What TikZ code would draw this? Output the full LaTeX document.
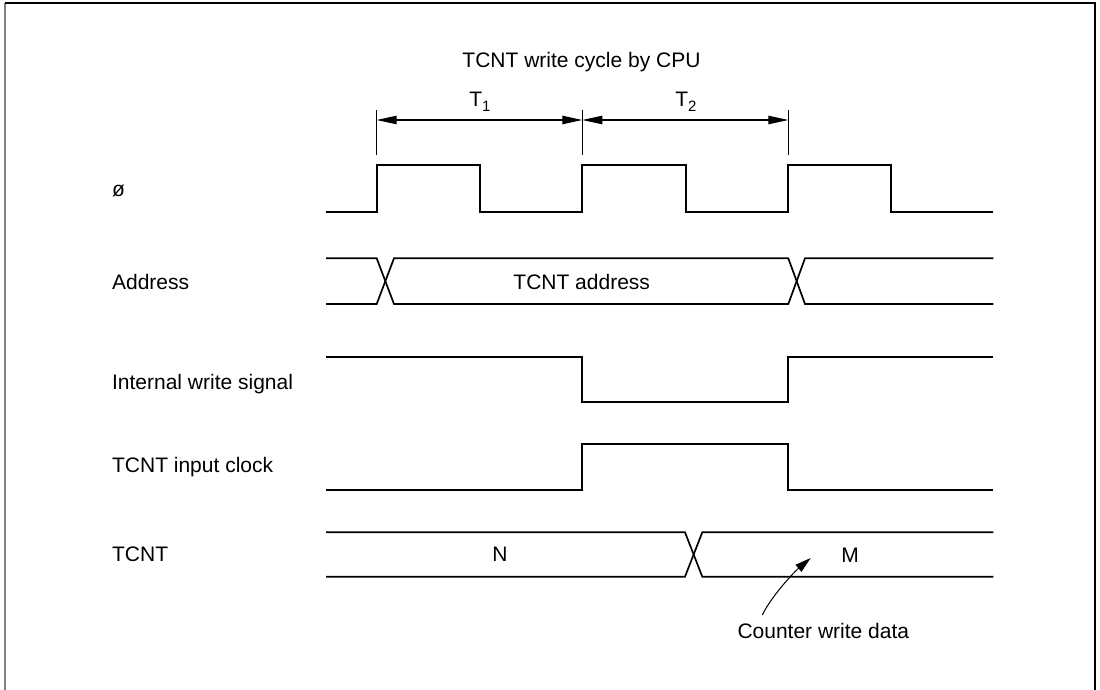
\documentclass[tikz,border=0pt]{standalone}
\usepackage{fontspec}
\setmainfont{Liberation Sans}
\usetikzlibrary{arrows.meta}
\begin{document}
\begin{tikzpicture}[x=0.5pt,y=-0.5pt,
  sig/.style={line width=0.85pt, line join=miter},
  lbl/.style={anchor=base west, inner sep=0pt, font=\fontsize{10.5pt}{12pt}\selectfont},
  txt/.style={anchor=base, inner sep=0pt, font=\fontsize{10.5pt}{12pt}\selectfont},
  tickline/.style={line width=0.45pt},
  dimline/.style={line width=0.55pt, {Triangle[length=10pt,width=4.2pt]}-{Triangle[length=10pt,width=4.2pt]}},
  callout/.style={line width=0.5pt, -{Triangle[length=8pt,width=4.5pt]}}]
\useasboundingbox (0,0) rectangle (1100,690);
% frame
\draw[gray, line width=1pt] (5,3) -- (5,690);
\draw[line width=0.6pt] (5,3) -- (1095,3) -- (1095,690);

% signal labels
\node[lbl] (lphi) at (111.7,196.7) {ø};
\node[lbl] (laddr) at (111.7,289.3) {Address};
\node[lbl] (lws) at (111.7,389.5) {Internal write signal};
\node[lbl] (lclk) at (111.7,472.7) {TCNT input clock};
\node[lbl] (ltcnt) at (111.7,561.7) {TCNT};

% title and period labels
\node[txt] (title) at (581.5,68) {TCNT write cycle by CPU};
\node[txt] (t1) at (480,106.7) {T\raisebox{-2.5pt}{\fontsize{7.5pt}{9pt}\selectfont 1}};
\node[txt] (t2) at (686,106.7) {T\raisebox{-2.5pt}{\fontsize{7.5pt}{9pt}\selectfont 2}};

% dimension ticks and arrows
\coordinate (ka) at (376.7,110); \coordinate (kab) at (376.7,155);
\coordinate (kc) at (582.3,110); \coordinate (kcb) at (582.3,155);
\coordinate (ke) at (788.3,110); \coordinate (keb) at (788.3,155);
\draw[tickline] (ka) -- (kab);
\draw[tickline] (kc) -- (kcb);
\draw[tickline] (ke) -- (keb);
\coordinate (da) at (376.7,120);
\coordinate (dc) at (582.3,120);
\coordinate (de) at (788.3,120);
\draw[dimline] (da) -- (dc);
\draw[dimline] (dc) -- (de);

% clock
\draw[sig] (326,212) -| (376.7,165) -| (480,212) -| (582.3,165) -| (685.7,212) -| (788.3,165) -| (891,212) -- (993.3,212);

% address bus
\draw[sig] (326,258.3) -- (376.7,258.3) -- (394,304) -- (788.3,304) -- (805,258.3) -- (993.3,258.3);
\draw[sig] (326,304) -- (376.7,304) -- (394,258.3) -- (788.3,258.3) -- (805,304) -- (993.3,304);
\node[txt] (aval) at (581.7,289.3) {TCNT address};

% internal write signal
\draw[sig] (326,356.7) -| (582.3,402.3) -| (788.3,356.7) -- (993.3,356.7);

% TCNT input clock
\draw[sig] (326,490) -| (582.3,444.3) -| (788.3,490) -- (993.3,490);

% TCNT
\draw[sig] (326,532.3) -- (685,532.3) -- (702.3,576.7) -- (993.3,576.7);
\draw[sig] (326,576.7) -- (685,576.7) -- (702.3,532.3) -- (993.3,532.3);
\node[txt] (nval) at (500,561.7) {N};
\node[txt] (mval) at (850,562.3) {M};

% callout
\node[txt] (cwd) at (823.3,638.3) {Counter write data};
\coordinate (cs) at (762.3,615);
\coordinate (ct) at (810.7,558);
\draw[callout] (cs) .. controls (771,597) and (793,573) .. (ct);
\end{tikzpicture}
\end{document}
